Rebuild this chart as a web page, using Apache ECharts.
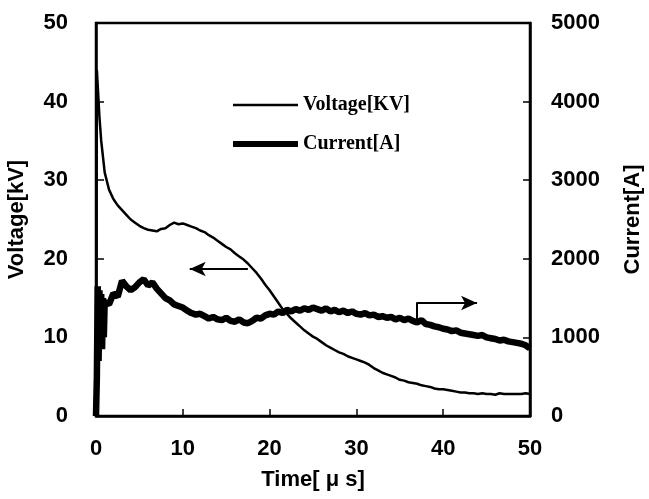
<!DOCTYPE html>
<html>
<head>
<meta charset="utf-8">
<script src="https://cdn.jsdelivr.net/npm/echarts@6/dist/echarts.min.js"></script>
<style>html,body{margin:0;padding:0;background:#fff}#c{width:649px;height:499px}</style>
</head>
<body>
<div id="c"></div>
<script>
var timeUs = [0,0.1,0.2,0.3,0.4,0.5,0.6,0.7,0.8,0.9,1.0,
1.5,2,2.5,3,3.5,4,4.5,5,5.5,6,6.5,7,7.5,8,8.5,9,9.5,10,
10.5,11,11.5,12,12.5,13,13.5,14,14.5,15,15.5,16,16.5,17,17.5,18,18.5,19,19.5,20,
20.5,21,21.5,22,22.5,23,23.5,24,24.5,25,25.5,26,26.5,27,27.5,28,28.5,29,29.5,30,
30.5,31,31.5,32,32.5,33,33.5,34,34.5,35,35.5,36,36.5,37,37.5,38,38.5,39,39.5,40,
40.5,41,41.5,42,42.5,43,43.5,44,44.5,45,45.5,46,46.5,47,47.5,48,48.5,49,49.5,50];

var voltageKV = [1,44,42,40,38,36.5,35,34,33,32,31,
28.8,27.6,26.8,26.2,25.6,25.0,24.6,24.2,23.9,23.7,23.6,23.5,23.8,23.9,24.3,24.6,24.4,24.5,
24.3,24.1,23.9,23.6,23.4,23.0,22.7,22.3,21.9,21.5,21.2,20.7,20.3,19.9,19.4,18.8,18.2,17.5,16.7,16.0,
15.2,14.4,13.6,13.0,12.4,11.9,11.4,10.9,10.5,10.1,9.8,9.4,9.0,8.7,8.4,8.1,7.9,7.6,7.4,7.2,
7.0,6.8,6.5,6.1,5.8,5.5,5.3,5.1,4.9,4.6,4.5,4.3,4.2,4.1,3.9,3.8,3.7,3.5,3.4,3.4,
3.3,3.2,3.1,3.0,3.0,2.9,2.9,2.8,2.9,2.8,2.8,2.7,2.9,2.8,2.8,2.8,2.8,2.8,2.9,2.8];

var currentA = [0,500,1650,700,1600,900,1550,850,1500,1000,1450,
1420,1560,1520,1720,1650,1600,1640,1700,1740,1660,1700,1620,1560,1500,1470,1420,1400,1380,
1340,1310,1290,1300,1270,1240,1260,1230,1220,1250,1210,1200,1230,1190,1180,1210,1250,1240,1280,1300,
1290,1330,1310,1350,1330,1360,1340,1370,1350,1380,1360,1340,1370,1330,1350,1320,1340,1310,1330,1300,
1290,1310,1280,1290,1260,1270,1250,1260,1230,1250,1220,1240,1210,1190,1220,1170,1160,1140,1130,1110,
1100,1080,1090,1060,1050,1040,1030,1020,1030,1000,990,980,960,970,950,940,930,920,900,860];

var xTicks = [0,10,20,30,40,50];
var voltageTicks = [0,10,20,30,40,50];
var currentTicks = [0,1000,2000,3000,4000,5000];

// annotation arrows (data coordinates)
var leftArrow = {from:[17.5,18.7], to:[10.8,18.7]};
var rightArrow = {p0:[36.9,1221], p1:[36.9,1438], p2:[43.9,1438]};

function pairs(xs, ys){ var o=[]; for(var i=0;i<xs.length;i++) o.push([xs[i], ys[i]]); return o; }

var tickFont = {color:'#000', fontFamily:'Liberation Sans, Arial, sans-serif', fontWeight:'bold', fontSize:22};
var nameFont = {color:'#000', fontFamily:'Liberation Sans, Arial, sans-serif', fontWeight:'bold', fontSize:22};

var chart = echarts.init(document.getElementById('c'), null, {renderer:'canvas'});
chart.setOption({
  animation:false,
  backgroundColor:'#fff',
  grid:{left:96, right:119, top:23, bottom:83, show:true, borderColor:'#000', borderWidth:2.5, backgroundColor:'transparent', containLabel:false, outerBoundsMode:'none'},
  legend:{
    orient:'vertical', left:228, top:90, itemWidth:65, itemHeight:14, itemGap:19,
    selectedMode:false,
    textStyle:{color:'#000', fontFamily:'Liberation Serif, Times New Roman, serif', fontWeight:'bold', fontSize:20},
    data:[
      {name:'Voltage[KV]', icon:'path://M0,0 M0,5.8 L65,5.8 L65,8.2 L0,8.2 Z M65,14', itemStyle:{color:'#000'}},
      {name:'Current[A]', icon:'path://M0,0 M0,4 L65,4 L65,10 L0,10 Z M65,14', itemStyle:{color:'#000'}}
    ]
  },
  xAxis:{
    type:'value', min:xTicks[0], max:xTicks[xTicks.length-1], interval:10,
    name:'Time[ \u03bc s]', nameLocation:'middle', nameGap:53, nameTextStyle:nameFont,
    axisLine:{show:true, lineStyle:{color:'#000', width:2.5}},
    axisTick:{show:true, inside:true, length:7, lineStyle:{color:'#000', width:1.5}},
    axisLabel:Object.assign({margin:22}, tickFont),
    splitLine:{show:false}
  },
  yAxis:[{
    type:'value', min:voltageTicks[0], max:voltageTicks[voltageTicks.length-1], interval:10,
    name:'Voltage[kV]', nameLocation:'middle', nameGap:68, nameRotate:90, nameTextStyle:nameFont,
    axisLine:{show:true, lineStyle:{color:'#000', width:2.5}},
    axisTick:{show:true, inside:true, length:8, lineStyle:{color:'#000', width:1.5}},
    axisLabel:Object.assign({margin:28}, tickFont),
    splitLine:{show:false}
  },{
    type:'value', position:'right', min:currentTicks[0], max:currentTicks[currentTicks.length-1], interval:1000,
    name:'Current[A]', nameLocation:'middle', nameGap:92, nameRotate:90, nameTextStyle:nameFont,
    axisLine:{show:true, lineStyle:{color:'#000', width:2.5}},
    axisTick:{show:true, inside:true, length:7, lineStyle:{color:'#000', width:1.5}},
    axisLabel:Object.assign({margin:21, formatter:function(v){return String(v);}}, tickFont),
    splitLine:{show:false}
  }],
  series:[{
    name:'Voltage[KV]', type:'line', yAxisIndex:0, data:pairs(timeUs, voltageKV),
    showSymbol:false, symbol:'none', color:'#000',
    lineStyle:{color:'#000', width:2.5},
    markLine:{
      silent:true, animation:false, label:{show:false},
      lineStyle:{color:'#000', width:2, type:'solid'},
      data:[[{coord:leftArrow.from, symbol:'none'},{coord:leftArrow.to, symbol:'arrow', symbolSize:[11,16]}]]
    }
  },{
    name:'Current[A]', type:'line', yAxisIndex:1, data:pairs(timeUs, currentA),
    showSymbol:false, symbol:'none', color:'#000',
    lineStyle:{color:'#000', width:6.5},
    markLine:{
      silent:true, animation:false, label:{show:false},
      lineStyle:{color:'#000', width:2, type:'solid'},
      data:[
        [{coord:rightArrow.p0, symbol:'none'},{coord:rightArrow.p1, symbol:'none'}],
        [{coord:rightArrow.p1, symbol:'none'},{coord:rightArrow.p2, symbol:'arrow', symbolSize:[11,16]}]
      ]
    }
  }]
});
</script>
</body>
</html>
